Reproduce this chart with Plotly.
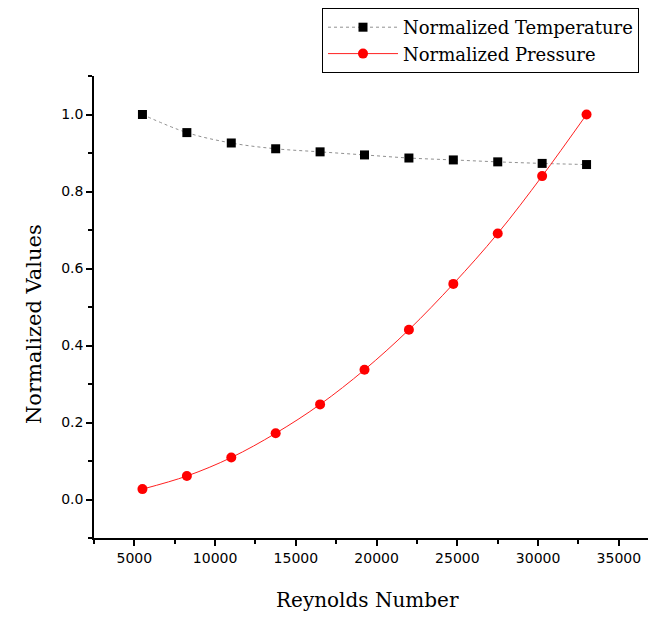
import plotly.graph_objects as go

reynolds = [5500, 8250, 11000, 13750, 16500, 19250, 22000, 24750, 27500, 30250, 33000]
norm_temperature = [1.0, 0.953, 0.926, 0.911, 0.903, 0.895, 0.887, 0.882, 0.877, 0.873, 0.870]
norm_pressure = [0.027, 0.061, 0.109, 0.172, 0.247, 0.337, 0.441, 0.560, 0.691, 0.840, 1.0]

serif = "DejaVu Serif, serif"
sans = "DejaVu Sans, Arial, sans-serif"

# page body has an 8px margin, so the figure is placed at (8, 8)
OFF = 8
W, H = 656 - OFF, 618 - OFF
L, T, B = 94 - OFF, 76 - OFF, 80
PW, PH = W - L, H - T - B

fig = go.Figure()
fig.add_trace(go.Scatter(
    x=reynolds, y=norm_temperature, mode="lines+markers",
    name="Normalized Temperature",
    line=dict(color="#909090", width=1, dash="dot", shape="spline"),
    marker=dict(symbol="square", size=9, color="black"),
))
fig.add_trace(go.Scatter(
    x=reynolds, y=norm_pressure, mode="lines+markers",
    name="Normalized Pressure",
    line=dict(color="#ff2020", width=1, shape="spline"),
    marker=dict(symbol="circle", size=10, color="#ff0000"),
))

fig.update_layout(
    width=W, height=H,
    margin=dict(l=L, r=0, t=T, b=B, autoexpand=False),
    paper_bgcolor="white", plot_bgcolor="white",
    showlegend=True,
    legend=dict(
        x=(322 - OFF) / W, y=1.0, xref="container", yref="container",
        xanchor="left", yanchor="top",
        bordercolor="black", borderwidth=1, bgcolor="white",
        font=dict(family=serif, size=18, color="black"),
        tracegroupgap=0, itemwidth=70,
    ),
    annotations=[
        dict(text="Reynolds Number", xref="paper", yref="paper",
             x=(367 - 94) / PW, y=-(600 - 538) / PH, xanchor="center", yanchor="middle",
             showarrow=False, font=dict(family=serif, size=20, color="black")),
        dict(text="Normalized Values", xref="paper", yref="paper", textangle=-90,
             x=-(94 - 34) / PW, y=(538 - 324) / PH, xanchor="center", yanchor="middle",
             showarrow=False, font=dict(family=serif, size=21, color="black")),
    ],
)
fig.update_xaxes(
    range=[2500, 37300], tick0=0, dtick=5000, tickformat="d",
    showgrid=False, zeroline=False, automargin=False,
    showline=True, linecolor="black", linewidth=1.5,
    ticks="outside", ticklen=6, tickwidth=1.5, tickcolor="black",
    minor=dict(ticks="outside", ticklen=4, tickwidth=1.5, tickcolor="black", dtick=2500, tick0=0, showgrid=False),
    tickfont=dict(family=sans, size=14, color="black"),
)
fig.update_yaxes(
    range=[-0.1, 1.1], tick0=0, dtick=0.2, tickformat=".1f",
    showgrid=False, zeroline=False, automargin=False,
    showline=True, linecolor="black", linewidth=1.5,
    ticks="outside", ticklen=6, tickwidth=1.5, tickcolor="black",
    minor=dict(ticks="outside", ticklen=4, tickwidth=1.5, tickcolor="black", dtick=0.1, tick0=0.1, showgrid=False),
    tickfont=dict(family=sans, size=14, color="black"),
)

fig.write_html("out.html")
